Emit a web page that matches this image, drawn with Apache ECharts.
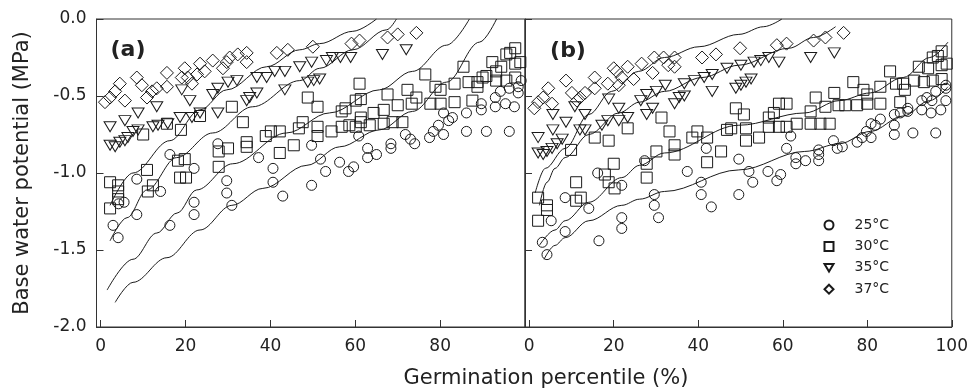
<!DOCTYPE html>
<html>
<head>
<meta charset="utf-8">
<script src="https://cdn.jsdelivr.net/npm/echarts@6/dist/echarts.min.js"></script>
<style>
  html, body { margin: 0; padding: 0; background: #fff; }
  #chart { width: 971px; height: 391px; }
</style>
</head>
<body>
<div id="chart"></div>
<script>
// ticks
var xTicksA = [0, 20, 40, 60, 80];
var xTicksB = [0, 20, 40, 60, 80, 100];
var yTicks = [0, -0.5, -1, -1.5, -2];
var temps = ['25°C', '30°C', '35°C', '37°C'];

// panel (a) observed points [germination percentile, base water potential]
var a25 = [[2.9,-1.34],[4.1,-1.42],[4.2,-1.20],[5.5,-1.19],[8.5,-1.04],[8.5,-1.27],[14.1,-1.12],[16.3,-0.88],[16.3,-1.34],[22.0,-0.97],[22.0,-1.19],[22.0,-1.27],[27.6,-0.81],[29.7,-1.05],[29.7,-1.13],[30.9,-1.21],[37.2,-0.90],[40.6,-0.97],[40.6,-1.06],[42.9,-1.15],[49.7,-0.82],[49.7,-1.08],[51.8,-0.91],[53.0,-0.99],[56.3,-0.93],[58.4,-0.99],[59.6,-0.96],[60.8,-0.76],[62.9,-0.84],[62.9,-0.90],[65.0,-0.88],[68.4,-0.81],[68.4,-0.84],[71.8,-0.75],[73.0,-0.78],[74.0,-0.81],[77.5,-0.77],[78.4,-0.73],[79.6,-0.69],[80.8,-0.75],[80.8,-0.61],[82.0,-0.66],[82.9,-0.64],[86.2,-0.61],[86.2,-0.73],[89.7,-0.55],[89.7,-0.59],[90.9,-0.73],[93.0,-0.51],[93.0,-0.57],[94.2,-0.47],[95.4,-0.55],[96.3,-0.45],[96.3,-0.73],[97.5,-0.57],[98.4,-0.44],[98.4,-0.48],[99.1,-0.40]];
var a30 = [[2.2,-1.06],[4.1,-1.08],[4.1,-1.12],[4.1,-1.17],[2.2,-1.23],[10.9,-0.98],[11.1,-1.12],[12.3,-1.08],[18.2,-0.92],[19.8,-0.91],[18.7,-1.03],[20.1,-1.03],[27.8,-0.86],[30.0,-0.84],[27.8,-0.96],[10.0,-0.75],[15.6,-0.68],[18.9,-0.72],[23.4,-0.63],[30.9,-0.57],[33.5,-0.67],[34.4,-0.80],[34.4,-0.83],[38.9,-0.76],[40.1,-0.73],[42.2,-0.73],[42.2,-0.87],[45.5,-0.82],[46.7,-0.71],[47.6,-0.67],[51.1,-0.70],[51.1,-0.76],[48.8,-0.51],[51.1,-0.57],[54.4,-0.73],[56.8,-0.70],[58.6,-0.69],[60.1,-0.70],[61.3,-0.64],[61.3,-0.67],[63.4,-0.69],[56.8,-0.60],[57.7,-0.58],[60.1,-0.53],[61.3,-0.52],[61.0,-0.42],[64.3,-0.61],[66.7,-0.59],[66.7,-0.68],[68.8,-0.67],[71.1,-0.67],[67.6,-0.49],[70.0,-0.56],[72.3,-0.46],[73.3,-0.55],[74.4,-0.51],[76.5,-0.36],[77.7,-0.55],[78.9,-0.44],[80.1,-0.46],[80.1,-0.55],[83.4,-0.42],[83.4,-0.54],[85.5,-0.31],[86.7,-0.41],[87.6,-0.53],[88.8,-0.41],[88.8,-0.44],[90.0,-0.38],[90.9,-0.37],[92.3,-0.28],[93.2,-0.40],[93.2,-0.34],[94.4,-0.31],[95.6,-0.40],[95.6,-0.23],[96.5,-0.22],[97.7,-0.19],[97.7,-0.38],[97.7,-0.29],[98.9,-0.28]];
var a35 = [[2.2,-0.70],[2.2,-0.82],[3.4,-0.83],[4.5,-0.80],[5.7,-0.79],[6.4,-0.77],[7.6,-0.73],[8.8,-0.72],[5.7,-0.66],[8.8,-0.61],[12.3,-0.70],[13.2,-0.57],[13.5,-0.69],[15.8,-0.68],[18.7,-0.64],[19.1,-0.46],[21.0,-0.53],[21.5,-0.64],[23.4,-0.61],[26.4,-0.49],[27.6,-0.45],[27.6,-0.61],[30.0,-0.41],[32.1,-0.40],[34.4,-0.53],[35.1,-0.51],[36.8,-0.48],[36.8,-0.38],[39.1,-0.38],[41.0,-0.34],[43.4,-0.34],[43.4,-0.46],[46.9,-0.31],[49.7,-0.28],[48.8,-0.41],[50.2,-0.40],[51.6,-0.39],[53.2,-0.27],[54.6,-0.25],[56.5,-0.25],[58.9,-0.25],[66.4,-0.23],[72.0,-0.20]];
var a37 = [[1.0,-0.54],[2.2,-0.51],[3.4,-0.47],[4.5,-0.42],[5.7,-0.53],[8.5,-0.38],[9.7,-0.43],[10.9,-0.51],[12.1,-0.47],[13.2,-0.45],[15.6,-0.44],[15.6,-0.35],[19.1,-0.38],[19.8,-0.32],[20.5,-0.38],[21.5,-0.42],[22.7,-0.36],[23.4,-0.29],[24.5,-0.34],[26.4,-0.27],[28.8,-0.32],[29.7,-0.28],[30.4,-0.25],[32.3,-0.23],[34.4,-0.22],[34.4,-0.28],[41.5,-0.22],[44.1,-0.20],[50.0,-0.18],[59.1,-0.16],[61.0,-0.14],[67.6,-0.12],[70.0,-0.10],[74.4,-0.09]];

// panel (a) fitted curves
var aFit25 = [[3.4,-1.84],[7.6,-1.71],[15.6,-1.55],[23.4,-1.37],[30.9,-1.21],[38.2,-1.10],[48.6,-0.95],[56.3,-0.83],[65.7,-0.72],[73.5,-0.60],[81.5,-0.41],[89.3,-0.15],[93.3,0]];
var aFit30 = [[1.5,-1.76],[7.6,-1.56],[13.2,-1.39],[18.0,-1.26],[22.6,-1.11],[31.1,-0.94],[43.8,-0.74],[53.9,-0.61],[65.7,-0.46],[73.5,-0.34],[81.5,-0.17],[86.9,0]];
var aFit35 = [[2.2,-1.44],[6.2,-1.29],[10.9,-1.11],[17.9,-0.90],[26.4,-0.74],[35.8,-0.57],[46.9,-0.40],[51.6,-0.32],[59.4,-0.20],[67.4,-0.07],[69.7,0]];
var aFit37 = [[2.2,-1.21],[7.6,-1.00],[16.3,-0.79],[23.4,-0.59],[29.7,-0.46],[39.1,-0.31],[46.9,-0.20],[51.6,-0.16],[59.4,-0.08],[65.0,0]];

// panel (b) observed points
var b25 = [[3.1,-1.45],[4.2,-1.53],[5.2,-1.31],[8.5,-1.16],[8.5,-1.38],[14.1,-1.23],[16.2,-1.00],[16.5,-1.44],[21.9,-1.08],[21.9,-1.29],[21.9,-1.36],[27.3,-0.92],[29.6,-1.14],[29.6,-1.21],[30.6,-1.29],[37.4,-0.99],[40.7,-1.06],[40.7,-1.14],[41.9,-0.84],[43.1,-1.22],[49.6,-0.91],[49.6,-1.14],[52.0,-0.99],[52.9,-1.06],[56.5,-0.99],[58.6,-1.05],[59.5,-1.01],[60.9,-0.84],[61.9,-0.76],[63.1,-0.90],[63.1,-0.94],[65.4,-0.92],[68.5,-0.85],[68.5,-0.88],[68.5,-0.92],[72.0,-0.79],[72.9,-0.84],[74.1,-0.83],[77.6,-0.80],[78.8,-0.77],[79.8,-0.73],[80.9,-0.77],[80.9,-0.68],[81.9,-0.69],[83.1,-0.65],[86.4,-0.69],[86.4,-0.62],[86.4,-0.75],[87.8,-0.61],[89.6,-0.60],[89.6,-0.58],[90.8,-0.74],[92.9,-0.59],[92.9,-0.53],[94.1,-0.51],[95.1,-0.61],[95.3,-0.53],[96.2,-0.47],[96.2,-0.74],[97.4,-0.59],[98.6,-0.53],[98.6,-0.45],[98.6,-0.43]];
var b30 = [[2.1,-1.16],[4.2,-1.21],[4.2,-1.24],[2.1,-1.31],[11.1,-1.06],[12.2,-1.16],[11.1,-1.18],[17.9,-1.01],[18.8,-1.06],[20.2,-1.10],[20.0,-0.94],[9.9,-0.85],[15.5,-0.77],[18.8,-0.79],[23.3,-0.71],[27.8,-0.94],[27.8,-1.03],[30.1,-0.86],[31.3,-0.64],[33.2,-0.73],[34.4,-0.82],[34.4,-0.88],[38.6,-0.77],[39.8,-0.73],[42.1,-0.77],[42.1,-0.93],[45.4,-0.86],[46.8,-0.72],[47.8,-0.71],[48.9,-0.58],[50.8,-0.62],[51.3,-0.71],[51.3,-0.79],[54.4,-0.77],[56.7,-0.64],[57.9,-0.61],[56.7,-0.70],[59.1,-0.70],[59.1,-0.55],[60.9,-0.55],[60.9,-0.70],[63.3,-0.68],[66.6,-0.60],[66.6,-0.68],[68.9,-0.68],[71.1,-0.68],[67.8,-0.51],[70.1,-0.57],[72.2,-0.48],[73.2,-0.56],[74.8,-0.56],[76.7,-0.41],[77.6,-0.56],[79.1,-0.46],[80.0,-0.55],[80.0,-0.49],[83.1,-0.55],[83.1,-0.44],[85.4,-0.34],[86.8,-0.42],[87.8,-0.54],[88.5,-0.42],[88.9,-0.46],[91.1,-0.40],[92.2,-0.31],[93.4,-0.41],[94.4,-0.32],[95.5,-0.40],[95.5,-0.25],[96.7,-0.24],[97.6,-0.21],[97.6,-0.39],[97.6,-0.30],[98.8,-0.29]];
var b35 = [[2.1,-0.77],[2.1,-0.87],[3.3,-0.88],[4.2,-0.86],[5.4,-0.84],[6.6,-0.81],[7.8,-0.78],[5.6,-0.72],[8.7,-0.67],[12.0,-0.72],[13.2,-0.72],[13.2,-0.62],[10.8,-0.57],[5.6,-0.62],[17.2,-0.69],[18.6,-0.66],[18.8,-0.52],[21.2,-0.58],[21.2,-0.66],[23.3,-0.64],[26.4,-0.53],[27.8,-0.49],[27.8,-0.62],[29.2,-0.58],[30.1,-0.47],[32.2,-0.43],[34.4,-0.55],[35.5,-0.51],[36.7,-0.50],[36.7,-0.42],[39.1,-0.40],[41.4,-0.38],[43.3,-0.36],[43.3,-0.47],[46.8,-0.32],[48.9,-0.45],[50.1,-0.43],[51.3,-0.41],[52.5,-0.39],[50.1,-0.30],[53.2,-0.28],[54.8,-0.27],[56.7,-0.25],[59.1,-0.28],[66.6,-0.25],[72.2,-0.22]];
var b37 = [[1.2,-0.58],[2.1,-0.54],[3.3,-0.51],[4.5,-0.45],[5.4,-0.55],[8.7,-0.40],[10.1,-0.48],[11.3,-0.53],[12.0,-0.51],[13.2,-0.48],[15.5,-0.45],[15.5,-0.38],[18.6,-0.42],[20.0,-0.32],[20.7,-0.34],[21.9,-0.38],[21.2,-0.43],[23.3,-0.31],[24.7,-0.39],[26.6,-0.29],[29.2,-0.35],[29.6,-0.25],[31.8,-0.25],[32.9,-0.30],[34.4,-0.25],[34.4,-0.31],[40.9,-0.25],[44.2,-0.23],[49.9,-0.19],[58.6,-0.17],[60.9,-0.16],[67.3,-0.14],[70.1,-0.12],[74.4,-0.09]];

// panel (b) fitted curves
var bFit25 = [[3.5,-1.56],[6.1,-1.47],[8.5,-1.42],[14.1,-1.31],[21.9,-1.21],[26.1,-1.17],[32.0,-1.12],[49.6,-0.98],[65.2,-0.86],[73.4,-0.81],[80.7,-0.73],[88.5,-0.63],[94.8,-0.53],[99.1,-0.44]];
var bFit30 = [[2.4,-1.47],[6.1,-1.37],[8.5,-1.31],[14.1,-1.19],[21.9,-1.03],[26.1,-0.95],[32.0,-0.87],[49.6,-0.69],[65.2,-0.61],[73.4,-0.53],[80.7,-0.48],[88.5,-0.38],[94.8,-0.25],[99.1,-0.15]];
var bFit35 = [[2.4,-1.21],[4.2,-1.06],[6.1,-0.97],[8.5,-0.90],[14.1,-0.75],[21.2,-0.61],[26.1,-0.54],[32.0,-0.47],[40.9,-0.38],[49.6,-0.30],[61.4,-0.19],[67.3,-0.12],[72.5,-0.05]];
var bFit37 = [[1.4,-1.13],[3.8,-0.97],[8.5,-0.84],[14.1,-0.62],[19.5,-0.47],[25.9,-0.34],[32.0,-0.25],[40.2,-0.18],[49.6,-0.10],[55.5,-0.05],[59.8,0]];

var FONT = 'DejaVu Sans';
var INK = '#222';
var AXIS = '#333';
var DOWN_TRI = 'path://M0,0L12,0L6,10Z';   // open triangle pointing down

var chart = echarts.init(document.getElementById('chart'));

function xAxisFor(idx, ticks) {
  return {
    type: 'value', gridIndex: idx, min: -1, max: 100,
    axisLine: { show: true, onZero: false, lineStyle: { color: AXIS, width: 1 } },
    axisTick: { show: true, inside: true, length: 7, customValues: ticks, lineStyle: { color: AXIS } },
    axisLabel: { customValues: ticks, margin: 11, color: INK, fontFamily: FONT, fontSize: 17 },
    splitLine: { show: false }
  };
}
function yAxisFor(idx, showLabel) {
  return {
    type: 'value', gridIndex: idx, min: -2, max: 0, interval: 0.5,
    axisLine: { show: true, onZero: false, lineStyle: { color: AXIS, width: 1 } },
    axisTick: { show: true, inside: true, length: 7, customValues: yTicks, lineStyle: { color: AXIS } },
    axisLabel: {
      show: showLabel, customValues: yTicks, margin: 10, color: INK, fontFamily: FONT, fontSize: 17,
      formatter: function (v) { return v.toFixed(1); }
    },
    splitLine: { show: false }
  };
}

var marks = [
  { name: temps[0], symbol: 'circle', size: 10, a: a25, b: b25, fa: aFit25, fb: bFit25 },
  { name: temps[1], symbol: 'rect', size: 11, a: a30, b: b30, fa: aFit30, fb: bFit30 },
  { name: temps[2], symbol: DOWN_TRI, size: [12, 10], a: a35, b: b35, fa: aFit35, fb: bFit35 },
  { name: temps[3], symbol: 'diamond', size: [13, 13], a: a37, b: b37, fa: aFit37, fb: bFit37 }
];

var series = [];
marks.forEach(function (m) {
  [['a', 0], ['b', 1]].forEach(function (p) {
    series.push({
      name: m.name, type: 'scatter', xAxisIndex: p[1], yAxisIndex: p[1],
      symbol: m.symbol, symbolSize: m.size,
      itemStyle: { color: 'rgba(255,255,255,0)', borderColor: '#1a1a1a', borderWidth: 1, opacity: 1 },
      data: m[p[0]], z: 3
    });
  });
});
marks.forEach(function (m) {
  [['fa', 0], ['fb', 1]].forEach(function (p) {
    series.push({
      name: 'fit ' + m.name + ' ' + p[0], type: 'line', xAxisIndex: p[1], yAxisIndex: p[1],
      showSymbol: false, smooth: 0.35, smoothMonotone: 'x',
      lineStyle: { color: '#1a1a1a', width: 1 },
      data: m[p[0]], z: 2
    });
  });
});

var option = {
  animation: false,
  backgroundColor: '#fff',
  grid: [
    { left: 96.5, top: 19, width: 428.5, height: 308, show: true, borderColor: AXIS, borderWidth: 1 },
    { left: 525, top: 19, width: 429, height: 308, show: true, borderColor: AXIS, borderWidth: 1 }
  ],
  xAxis: [xAxisFor(0, xTicksA), xAxisFor(1, xTicksB)],
  yAxis: [yAxisFor(0, true), yAxisFor(1, false)],
  legend: {
    orient: 'vertical', left: 818.5, top: 213,
    itemWidth: 9, itemHeight: 9, itemGap: 7.4,
    data: temps.map(function (t, i) {
      return i === 2 ? { name: t, icon: DOWN_TRI } : { name: t };
    }),
    textStyle: { color: INK, fontFamily: FONT, fontSize: 14, lineHeight: 14, padding: [0, 0, 0, 16] }
  },
  graphic: [
    { type: 'text', x: 23, y: 173, rotation: Math.PI / 2,
      style: { text: 'Base water potential (MPa)', fill: INK, font: '21px "DejaVu Sans"', textAlign: 'center', textVerticalAlign: 'middle' } },
    { type: 'text', x: 546, y: 379,
      style: { text: 'Germination percentile (%)', fill: INK, font: '21px "DejaVu Sans"', textAlign: 'center', textVerticalAlign: 'middle' } },
    { type: 'text', x: 128, y: 50,
      style: { text: '(a)', fill: INK, font: 'bold 22px "DejaVu Sans"', textAlign: 'center', textVerticalAlign: 'middle' } },
    { type: 'text', x: 568, y: 51,
      style: { text: '(b)', fill: INK, font: 'bold 22px "DejaVu Sans"', textAlign: 'center', textVerticalAlign: 'middle' } }
  ],
  series: series
};

chart.setOption(option);
</script>
</body>
</html>
